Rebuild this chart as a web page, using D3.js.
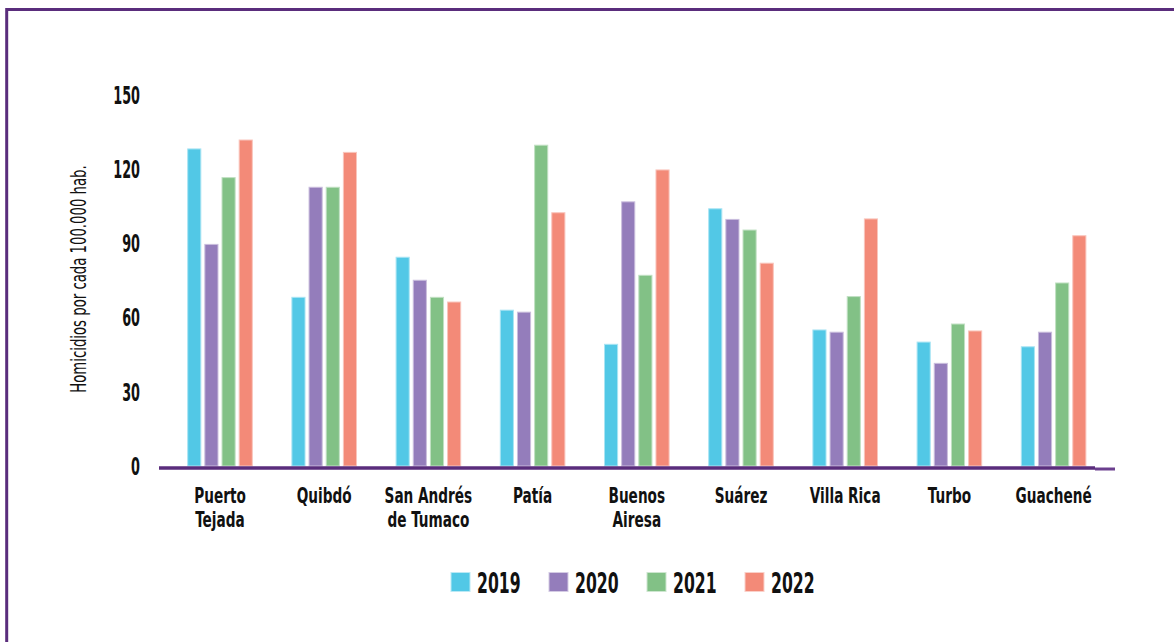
<!DOCTYPE html>
<html>
<head>
<meta charset="utf-8">
<script src="https://cdn.jsdelivr.net/npm/d3@7"></script>
<style>
  html, body { margin: 0; padding: 0; background: #fff; }
  svg { display: block; }
</style>
</head>
<body>
<div id="chart"></div>
<script>
// data (homicidios por cada 100.000 hab.)
const categories = ['Puerto Tejada', 'Quibdó', 'San Andrés de Tumaco', 'Patía', 'Buenos Airesa',
  'Suárez', 'Villa Rica', 'Turbo', 'Guachené'];
const categoryLines = [['Puerto', 'Tejada'], ['Quibdó'], ['San Andrés', 'de Tumaco'], ['Patía'],
  ['Buenos', 'Airesa'], ['Suárez'], ['Villa Rica'], ['Turbo'], ['Guachené']];
const years = ['2019', '2020', '2021', '2022'];
const v2019 = [128.2, 68.2, 84.4, 63.0, 49.2, 104.0, 55.0, 50.1, 48.2];
const v2020 = [89.6, 112.7, 75.1, 62.2, 106.8, 99.7, 54.1, 41.5, 54.1];
const v2021 = [116.6, 112.7, 68.2, 129.7, 77.1, 95.4, 68.5, 57.4, 74.0];
const v2022 = [131.8, 126.8, 66.3, 102.4, 119.7, 82.0, 99.9, 54.6, 93.1];
const yTicks = [0, 30, 60, 90, 120, 150];
const yTitle = 'Homicidios por cada 100.000 hab.';

const colors = ['#52c8e6', '#947dbb', '#82c186', '#f38a78'];
const purple = '#5a2d7c';
const narrow = '"Liberation Sans Narrow", "DejaVu Sans Condensed", "Roboto", sans-serif';

const width = 1174, height = 642;
const series = [v2019, v2020, v2021, v2022];

const svg = d3.select('#chart').append('svg')
  .attr('width', width)
  .attr('height', height);

// frame (only top + left edges are inside the picture)
svg.append('path')
  .attr('d', `M6.7,${height + 5} V9.5 H${width + 5}`)
  .attr('fill', 'none')
  .attr('stroke', purple)
  .attr('stroke-width', 3);

const x = d3.scaleBand()
  .domain(categories)
  .range([167.9, 1105.7])
  .paddingInner(0.38)
  .paddingOuter(0.19);

const xInner = d3.scaleBand()
  .domain(years)
  .range([0, x.bandwidth()])
  .paddingInner(0.235)
  .paddingOuter(0);

const y = d3.scaleLinear()
  .domain([0, 150])
  .range([466, 95]);

// y axis labels
const yAxis = svg.append('g')
  .attr('transform', 'translate(140,0)')
  .call(d3.axisLeft(y).tickValues(yTicks).tickSize(0).tickPadding(0).tickFormat(d3.format('d')));
yAxis.select('.domain').remove();
yAxis.selectAll('text')
  .attr('font-family', narrow)
  .attr('font-weight', 'bold')
  .attr('font-size', 25)
  .attr('fill', '#111')
  .attr('dy', '0.33em')
  .attr('transform', 'scale(0.57,1)');

// y title
svg.append('text')
  .attr('transform', `translate(86,279) rotate(-90) scale(0.67,1)`)
  .attr('text-anchor', 'middle')
  .attr('font-family', narrow)
  .attr('font-size', 22)
  .attr('fill', '#111')
  .text(yTitle);

// bars
const groups = svg.append('g')
  .selectAll('g')
  .data(categories)
  .join('g')
  .attr('transform', d => `translate(${x(d)},0)`);

groups.selectAll('rect')
  .data((d, i) => years.map((yr, j) => ({ year: yr, j: j, value: series[j][i] })))
  .join('rect')
  .attr('x', d => xInner(d.year))
  .attr('width', xInner.bandwidth())
  .attr('y', d => y(d.value))
  .attr('height', d => y(0) - y(d.value))
  .attr('fill', d => colors[d.j])
  .attr('stroke', d => d3.interpolateRgb(colors[d.j], '#fff')(0.5))
  .attr('stroke-width', 1);

// baseline
svg.append('line')
  .attr('x1', 159).attr('x2', 1095)
  .attr('y1', 468).attr('y2', 468)
  .attr('stroke', purple)
  .attr('stroke-width', 3.5);
svg.append('line')
  .attr('x1', 1095).attr('x2', 1115)
  .attr('y1', 469).attr('y2', 469)
  .attr('stroke', '#6b3f8e')
  .attr('stroke-width', 3);

// x axis labels
const xAxis = svg.append('g')
  .attr('transform', 'translate(0,503)')
  .call(d3.axisBottom(x).tickSize(0).tickFormat(''));
xAxis.select('.domain').remove();
xAxis.selectAll('.tick text').remove();
xAxis.selectAll('.tick')
  .append('text')
  .attr('text-anchor', 'middle')
  .attr('font-family', narrow)
  .attr('font-weight', 'bold')
  .attr('font-size', 22)
  .attr('fill', '#111')
  .attr('transform', 'scale(0.69,1)')
  .each(function(d, i) {
    const t = d3.select(this);
    categoryLines[i].forEach((line, k) => {
      t.append('tspan').attr('x', 0).attr('y', k * 24).text(line);
    });
  });

// legend
const legend = svg.append('g')
  .selectAll('g')
  .data(years)
  .join('g')
  .attr('transform', (d, i) => `translate(${451 + i * 98},572.5)`);

legend.append('rect')
  .attr('width', 19)
  .attr('height', 19)
  .attr('fill', (d, i) => colors[i])
  .attr('stroke', (d, i) => d3.interpolateRgb(colors[i], '#fff')(0.6))
  .attr('stroke-width', 1);

legend.append('text')
  .attr('transform', 'translate(26,20) scale(0.6,1)')
  .attr('font-family', narrow)
  .attr('font-weight', 'bold')
  .attr('font-size', 29)
  .attr('fill', '#111')
  .text(d => d);
</script>
</body>
</html>
